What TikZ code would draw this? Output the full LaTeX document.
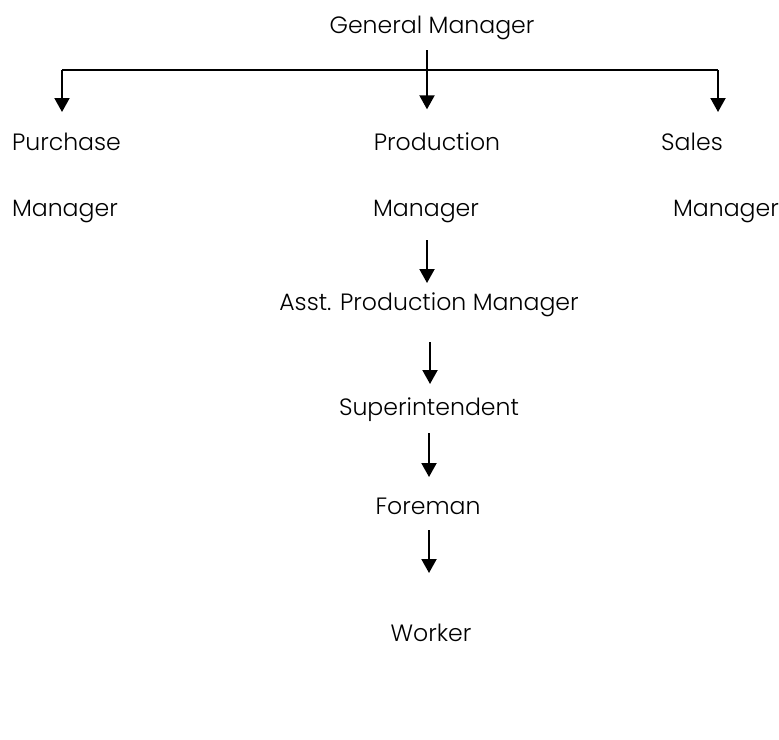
\documentclass[tikz,border=0pt]{standalone}
\usepackage{fontspec}
\setmainfont{Poppins}[UprightFont={* Light}]
\usetikzlibrary{arrows.meta}

\begin{document}
\begin{tikzpicture}[x=0.5pt,y=-0.5pt,line width=1pt,
                    >={Triangle[length=7pt,width=7.5pt]},
                    lbl/.style={inner sep=0pt,anchor=base,font=\fontsize{11.8}{14}\selectfont},
                    arr/.style={->}]
\useasboundingbox (0,0) rectangle (779,739);

% top
\node[lbl] (gm) at (432,33) {General Manager};
\coordinate (lt) at (62,70);
\coordinate (rt) at (718,70);
\coordinate (mid) at (427,70);

% second level
\node[lbl,anchor=base west] (pur1) at (11,150) {Purchase};
\node[lbl,anchor=base west] (pur2) at (11,216) {Manager};
\node[lbl] (pro1) at (437,150) {Production};
\node[lbl] (pro2) at (426,216) {Manager};
\node[lbl] (sal1) at (692,150) {Sales};
\node[lbl,anchor=base west] (sal2) at (672,216) {Manager};

% production line
\node[lbl] (apm) at (429,310) {Asst. Production Manager};
\node[lbl] (sup) at (429,415) {Superintendent};
\node[lbl] (fore) at (428,514) {Foreman};
\node[lbl] (work) at (431,641) {Worker};

\draw (lt) -- (rt);
\draw[arr] (lt) -- ++(0,42);
\draw[arr] (rt) -- ++(0,42);
\draw[arr,shorten <=5pt] (mid |- gm.south) -- ++(0,69);

\draw[arr] (pro2.base) ++(1,24) -- ++(0,43);
\draw[arr] (apm.base) ++(1,32) -- ++(0,42);
\draw[arr] (sup.base) ++(0,18) -- ++(0,44);
\draw[arr] (fore.base) ++(1,16) -- ++(0,43);

\end{tikzpicture}
\end{document}
